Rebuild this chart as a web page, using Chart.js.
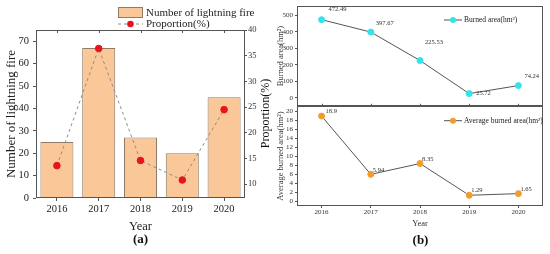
<!DOCTYPE html>
<html>
<head>
<meta charset="utf-8">
<script src="https://cdn.jsdelivr.net/npm/chart.js@4.4.0/dist/chart.umd.min.js"></script>
<style>
    body { margin: 0; background: #fff; }
    #wrap { position: relative; width: 550px; height: 254px; }
    .pane { position: absolute; }
</style>
</head>
<body>
<div id="wrap">
    <div class="pane" style="left:0;top:0;width:275px;height:254px"><canvas id="chartA"></canvas></div>
    <div class="pane" style="left:275px;top:0;width:275px;height:112px"><canvas id="chartB1"></canvas></div>
    <div class="pane" style="left:275px;top:100px;width:275px;height:154px"><canvas id="chartB2"></canvas></div>
</div>
<script>
// data
const years = ["2016", "2017", "2018", "2019", "2020"];
const lightningFires = [25, 67, 27, 20, 45];
const proportion = [13.6, 36.4, 14.6, 10.8, 24.5];
const burnedArea = [472.49, 397.67, 225.53, 25.72, 74.24];
const avgBurnedArea = [18.9, 5.94, 8.35, 1.29, 1.65];

// tick labels
const fireTicks = [0, 10, 20, 30, 40, 50, 60, 70];
const proportionTicks = [10, 15, 20, 25, 30, 35, 40];
const burnedTicks = [0, 100, 200, 300, 400, 500];
const avgTicks = [0, 2, 4, 6, 8, 10, 12, 14, 16, 18, 20];

const SERIF = "'Liberation Serif', 'Times New Roman', serif";
Chart.defaults.font.family = SERIF;
Chart.defaults.color = "#222";
Chart.defaults.animation = false;

function fixedSize(prop, size) {
    return function (scale) { scale[prop] = size; };
}

function useTicks(values) {
    return function (scale) { scale.ticks = values.map(v => ({ value: v })); };
}

// box round the plot area, plus small inner ticks on the opposite side
const framePlugin = {
    id: "frame",
    afterDatasetsDraw(chart, args, opts) {
        const { left, top, right, bottom } = chart.chartArea;
        const ctx = chart.ctx;
        ctx.save();
        ctx.strokeStyle = opts.color || "#555";
        ctx.lineWidth = 1;
        ctx.strokeRect(Math.round(left) + 0.5, Math.round(top) + 0.5,
            Math.round(right - left) - 1, Math.round(bottom - top) - 1);
        const xs = chart.scales.x;
        const len = opts.tickLen || 3;
        for (let i = 0; i < xs.ticks.length; i++) {
            const px = Math.round(xs.getPixelForTick(i)) + 0.5;
            ctx.beginPath();
            if (opts.topTicks) {
                ctx.moveTo(px, top); ctx.lineTo(px, top + len);
            }
            if (opts.bottomTicks) {
                ctx.moveTo(px, bottom); ctx.lineTo(px, bottom - len);
            }
            ctx.stroke();
        }
        ctx.restore();
    }
};

const legendPlugin = {
    id: "legendBox",
    afterDraw(chart, args, opts) {
        if (!opts.items) return;
        const ctx = chart.ctx;
        ctx.save();
        ctx.font = opts.font;
        ctx.textBaseline = "middle";
        opts.items.forEach((it, i) => {
            const ds = chart.data.datasets[it.index];
            const x = opts.x;
            const y = opts.y + i * opts.rowH;
            if (it.kind === "box") {
                ctx.fillStyle = ds.backgroundColor;
                ctx.fillRect(x, y - opts.boxH / 2, opts.symW, opts.boxH);
                ctx.strokeStyle = ds.borderColor;
                ctx.lineWidth = 1;
                ctx.strokeRect(x + 0.5, y - opts.boxH / 2 + 0.5, opts.symW - 1, opts.boxH - 1);
            } else {
                ctx.strokeStyle = ds.borderColor;
                ctx.lineWidth = ds.borderWidth || 1;
                ctx.setLineDash(ds.borderDash || []);
                ctx.beginPath();
                ctx.moveTo(x, y);
                ctx.lineTo(x + opts.symW, y);
                ctx.stroke();
                ctx.setLineDash([]);
                ctx.fillStyle = ds.pointBackgroundColor;
                ctx.beginPath();
                ctx.arc(x + opts.symW / 2, y, ds.pointRadius, 0, Math.PI * 2);
                ctx.fill();
            }
            ctx.fillStyle = "#222";
            ctx.fillText(ds.label, x + opts.symW + opts.gap, y + 0.5);
        });
        ctx.restore();
    }
};

const valueLabelPlugin = {
    id: "valueLabels",
    afterDatasetsDraw(chart, args, opts) {
        if (!opts.dx) return;
        const ctx = chart.ctx;
        const meta = chart.getDatasetMeta(0);
        const values = chart.data.datasets[0].data;
        ctx.save();
        ctx.font = opts.font;
        ctx.fillStyle = "#333";
        ctx.textAlign = "left";
        ctx.textBaseline = "middle";
        meta.data.forEach((pt, i) => {
            ctx.fillText(String(values[i]), pt.x + opts.dx[i], pt.y + opts.dy[i]);
        });
        ctx.restore();
    }
};

// panel tag "(a)"/"(b)" and right-hand axis title read bottom-to-top
const extraTextPlugin = {
    id: "extraText",
    afterDraw(chart, args, opts) {
        if (!opts.items) return;
        const ctx = chart.ctx;
        opts.items.forEach(t => {
            ctx.save();
            ctx.font = t.font;
            ctx.fillStyle = "#111";
            ctx.textAlign = "center";
            ctx.textBaseline = "middle";
            ctx.translate(t.x, t.y);
            if (t.rotate) ctx.rotate(t.rotate);
            ctx.fillText(t.text, 0, 0);
            ctx.restore();
        });
    }
};

Chart.register(framePlugin, legendPlugin, valueLabelPlugin, extraTextPlugin);

// (a) bar + line
new Chart(document.getElementById("chartA"), {
    type: "bar",
    data: {
        labels: years,
        datasets: [
            {
                type: "line",
                label: "Proportion(%)",
                data: proportion,
                yAxisID: "y1",
                borderColor: "#8c8c8c",
                borderWidth: 1,
                borderDash: [3, 3],
                pointBackgroundColor: "#e8141b",
                pointBorderColor: "#e8141b",
                pointRadius: 3.3,
                order: 0
            },
            {
                label: "Number of lightning fire",
                data: lightningFires,
                yAxisID: "y",
                backgroundColor: "#fac898",
                borderColor: "#8f7b68",
                borderWidth: 1,
                categoryPercentage: 1,
                barPercentage: 0.79,
                order: 1
            }
        ]
    },
    options: {
        responsive: true,
        maintainAspectRatio: false,
        layout: { padding: { top: 30, left: 0, right: 0, bottom: 0 } },
        plugins: {
            legend: { display: false },
            tooltip: { enabled: false },
            frame: { topTicks: true },
            legendBox: {
                x: 118, y: 12.5, rowH: 11.5, symW: 25, boxH: 11, gap: 3,
                font: "11px " + SERIF,
                items: [{ index: 1, kind: "box" }, { index: 0, kind: "line" }]
            },
            extraText: {
                items: [
                    { text: "(a)", x: 140.5, y: 240, font: "bold 13px " + SERIF },
                    { text: "Proportion(%)", x: 266, y: 113.5, rotate: -Math.PI / 2, font: "12px " + SERIF }
                ]
            }
        },
        scales: {
            x: {
                afterFit: fixedSize("height", 56),
                border: { display: false },
                grid: { display: true, drawOnChartArea: false, offset: false, tickLength: 3, color: "#555" },
                ticks: { font: { size: 10.5 }, padding: 2, color: "#222" },
                title: { display: true, text: "Year", font: { size: 12.5 }, padding: { top: 0, bottom: 20 }, color: "#222" }
            },
            y: {
                position: "left",
                min: 0,
                max: 75,
                afterFit: fixedSize("width", 36),
                afterBuildTicks: useTicks(fireTicks),
                border: { display: false },
                grid: { display: true, drawOnChartArea: false, tickLength: 3, color: "#555" },
                ticks: { autoSkip: false, font: { size: 10.5 }, padding: 4, color: "#222" },
                title: { display: true, text: "Number of lightning fire", font: { size: 13 }, padding: { top: 4, bottom: 0 }, color: "#222" }
            },
            y1: {
                position: "right",
                min: 7.3,
                max: 40,
                afterFit: fixedSize("width", 30),
                afterBuildTicks: useTicks(proportionTicks),
                border: { display: false },
                grid: { display: true, drawOnChartArea: false, tickLength: 2, color: "#555" },
                ticks: { autoSkip: false, font: { size: 8.5 }, padding: 1, color: "#333" },
                title: { display: false }
            }
        }
    }
});

// (b) top: burned area
new Chart(document.getElementById("chartB1"), {
    type: "line",
    data: {
        labels: years,
        datasets: [{
            label: "Burned area(hm²)",
            data: burnedArea,
            borderColor: "#555",
            borderWidth: 1,
            pointBackgroundColor: "#33e3ea",
            pointBorderColor: "#33e3ea",
            pointRadius: 3
        }]
    },
    options: {
        responsive: true,
        maintainAspectRatio: false,
        layout: { padding: { top: 6, right: 7, left: 0, bottom: 0 } },
        plugins: {
            legend: { display: false },
            tooltip: { enabled: false },
            frame: { bottomTicks: true, tickLen: 2 },
            legendBox: {
                x: 169, y: 20, rowH: 10, symW: 18, boxH: 6, gap: 2,
                font: "7.5px " + SERIF,
                items: [{ index: 0, kind: "line" }]
            },
            valueLabels: {
                font: "6.5px " + SERIF,
                dx: [7, 5, 5, 7, 6],
                dy: [-10, -9, -18, 0, -9]
            }
        },
        scales: {
            x: {
                offset: true,
                afterFit: fixedSize("height", 6),
                border: { display: false },
                grid: { display: false },
                ticks: { display: false }
            },
            y: {
                min: -48,
                max: 554,
                afterFit: fixedSize("width", 22),
                afterBuildTicks: useTicks(burnedTicks),
                border: { display: false },
                grid: { display: true, drawOnChartArea: false, tickLength: 2, color: "#555" },
                ticks: { autoSkip: false, font: { size: 7 }, padding: 2, color: "#333" },
                title: { display: true, text: "Burned area(hm²)", font: { size: 8.5 }, padding: { top: 1, bottom: 0 }, color: "#333" }
            }
        }
    }
});

// (b) bottom: average burned area
new Chart(document.getElementById("chartB2"), {
    type: "line",
    data: {
        labels: years,
        datasets: [{
            label: "Average burned area(hm²)",
            data: avgBurnedArea,
            borderColor: "#555",
            borderWidth: 1,
            pointBackgroundColor: "#f39c2c",
            pointBorderColor: "#f39c2c",
            pointRadius: 3
        }]
    },
    options: {
        responsive: true,
        maintainAspectRatio: false,
        layout: { padding: { top: 6, right: 7, left: 0, bottom: 0 } },
        plugins: {
            legend: { display: false },
            tooltip: { enabled: false },
            legendBox: {
                x: 169, y: 20.7, rowH: 10, symW: 18, boxH: 6, gap: 2,
                font: "7.5px " + SERIF,
                items: [{ index: 0, kind: "line" }]
            },
            valueLabels: {
                font: "6.5px " + SERIF,
                dx: [4, 2, 2, 2, 2],
                dy: [-5, -4, -4, -5, -4]
            },
            extraText: {
                items: [{ text: "(b)", x: 145.5, y: 140.7, font: "bold 13px " + SERIF }]
            }
        },
        scales: {
            x: {
                offset: true,
                afterFit: fixedSize("height", 48),
                border: { display: false },
                grid: { display: true, drawOnChartArea: false, offset: false, tickLength: 2, color: "#555" },
                ticks: { font: { size: 7 }, padding: 0, color: "#333" },
                title: { display: true, text: "Year", font: { size: 8.5 }, padding: { top: 0, bottom: 25 }, color: "#333" }
            },
            y: {
                min: -1.1,
                max: 21.1,
                afterFit: fixedSize("width", 22),
                afterBuildTicks: useTicks(avgTicks),
                border: { display: false },
                grid: { display: true, drawOnChartArea: false, tickLength: 2, color: "#555" },
                ticks: { autoSkip: false, font: { size: 7 }, padding: 2, color: "#333" },
                title: { display: true, text: "Average burned area(hm²)", font: { size: 8.5 }, padding: { top: 1, bottom: 0 }, color: "#333" }
            }
        }
    }
});
</script>
</body>
</html>
